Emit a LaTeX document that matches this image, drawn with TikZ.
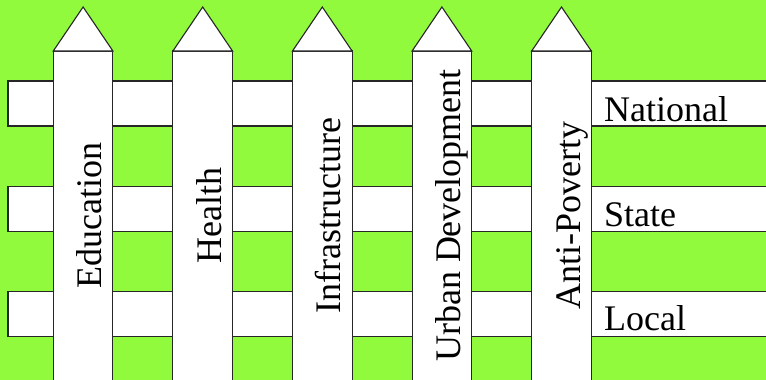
\documentclass[tikz,border=0pt]{standalone}
\usepackage{fontspec}
\setmainfont{Liberation Serif}
\definecolor{fencegreen}{RGB}{145,250,60}
\begin{document}
\begin{tikzpicture}[x=1pt,y=-1pt,
  board/.style={fill=white,draw=black!85,line width=1.1pt,line join=miter},
  lab/.style={font=\fontsize{36}{40}\selectfont, inner sep=0pt}]
\useasboundingbox (0,0) rectangle (766,380);
\clip (0,0) rectangle (766,380);
\fill[fencegreen] (0,0) rectangle (766,380);
\foreach \y in {81,186.7,291.3} \draw[board] (8,\y) rectangle (790,\y+45);
\foreach \i/\t in {0/Education,1/Health,2/Infrastructure,3/Urban Development,4/Anti-Poverty} {
  \pgfmathsetmacro\xl{53.3+119.6*\i}
  \draw[board] (\xl,51) rectangle (\xl+59.6,400);
  \draw[board] (\xl,51) -- (\xl+29.8,7) -- (\xl+59.6,51) -- cycle;
  \node[lab,rotate=90,anchor=base] (p\i) at (\xl+29.8+18.5, 215.5) {\t};
}
\node[lab,anchor=base west] (national) at (604,121) {National};
\node[lab,anchor=base west] (state) at (604,226) {State};
\node[lab,anchor=base west] (local) at (604,330) {Local};
\end{tikzpicture}
\end{document}
